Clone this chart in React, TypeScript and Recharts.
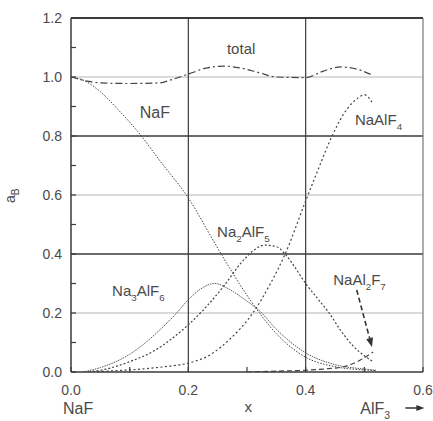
import React from 'react';
import { LineChart, Line, XAxis, YAxis, ReferenceLine, ReferenceDot } from 'recharts';

// ---- data ----
const xTicks = [0, 0.1, 0.2, 0.3, 0.4, 0.5, 0.6];
const yTicks = [0, 0.1, 0.2, 0.3, 0.4, 0.5, 0.6, 0.7, 0.8, 0.9, 1.0, 1.1, 1.2];

const xNaF = [0, 0.02, 0.05, 0.08, 0.12, 0.15, 0.2, 0.25, 0.3, 0.35, 0.4, 0.45, 0.5, 0.52];
const yNaF = [1.0, 0.99, 0.95, 0.89, 0.8, 0.72, 0.59, 0.42, 0.26, 0.13, 0.05, 0.018, 0.007, 0.005];

const xNa3 = [0.02, 0.05, 0.1, 0.15, 0.18, 0.2, 0.22, 0.245, 0.27, 0.3, 0.32, 0.35, 0.4, 0.45, 0.5, 0.52];
const yNa3 = [0, 0.015, 0.06, 0.14, 0.2, 0.245, 0.28, 0.3, 0.28, 0.24, 0.21, 0.145, 0.065, 0.025, 0.01, 0.006];

const xNa2 = [0.03, 0.06, 0.1, 0.14, 0.17, 0.2, 0.23, 0.26, 0.29, 0.31, 0.33, 0.35, 0.365, 0.38, 0.4, 0.42, 0.44, 0.46, 0.48, 0.5, 0.515];
const yNa2 = [0, 0.01, 0.035, 0.07, 0.11, 0.16, 0.22, 0.29, 0.37, 0.41, 0.43, 0.425, 0.4, 0.36, 0.3, 0.25, 0.2, 0.14, 0.09, 0.055, 0.035];

const xNaAlF4 = [0.03, 0.08, 0.12, 0.16, 0.2, 0.237, 0.27, 0.31, 0.34, 0.365, 0.4, 0.42, 0.445, 0.47, 0.49, 0.5, 0.513];
const yNaAlF4 = [0, 0.005, 0.01, 0.018, 0.03, 0.058, 0.11, 0.2, 0.3, 0.4, 0.58, 0.68, 0.8, 0.89, 0.93, 0.94, 0.915];

const xNaAl2F7 = [0.3, 0.35, 0.4, 0.43, 0.46, 0.48, 0.5, 0.515];
const yNaAl2F7 = [0, 0.003, 0.006, 0.01, 0.016, 0.028, 0.048, 0.068];

const xTotal = [0, 0.03, 0.05, 0.1, 0.15, 0.17, 0.2, 0.23, 0.26, 0.29, 0.32, 0.35, 0.4, 0.43, 0.46, 0.49, 0.513];
const yTotal = [1.0, 0.985, 0.98, 0.978, 0.98, 0.99, 1.01, 1.03, 1.037, 1.03, 1.015, 1.0, 0.998, 1.02, 1.034, 1.025, 1.007];

const toData = (xs: number[], ys: number[]) => xs.map((x, i) => ({ x, y: ys[i] }));

const W = 433;
const H = 421;
const INK = '#3a3a3a';
const TXT = '#4a4a4a';
const FONT = 'Liberation Sans, Arial, sans-serif';

const YTick = (props: any) => {
  const { x, y, payload } = props;
  const v = payload.value;
  const major = Math.round(v * 10) % 2 === 0;
  return (
    <g>
      <line x1={x} y1={y} x2={x + 5} y2={y} stroke={INK} strokeWidth={1.2} />
      {major && (
        <text x={x - 9} y={y} dy={5} textAnchor="end" fontSize={14} fill={TXT} fontFamily={FONT}>
          {v.toFixed(1)}
        </text>
      )}
    </g>
  );
};

const XTick = (props: any) => {
  const { x, y, payload } = props;
  const v = payload.value;
  const major = Math.round(v * 10) % 2 === 0;
  return (
    <g>
      <line x1={x} y1={y} x2={x} y2={y - 5} stroke={INK} strokeWidth={1.2} />
      {major && (
        <text x={x} y={y} dy={23} textAnchor="middle" fontSize={14} fill={TXT} fontFamily={FONT}>
          {v.toFixed(1)}
        </text>
      )}
    </g>
  );
};

const Lbl = (parts: [string, boolean][], anchor: 'start' | 'middle' | 'end' = 'start', size = 15) =>
  (p: any) => (
    <text x={p.cx} y={p.cy} textAnchor={anchor} fontSize={size} fill={TXT} fontFamily={FONT}>
      {parts.map(([s, sub], i) => (
        <tspan key={i} dy={sub ? 5 : i > 0 && parts[i - 1][1] ? -5 : 0} fontSize={sub ? size * 0.65 : size}>
          {s}
        </tspan>
      ))}
    </text>
  );

const ArrowShape = (p: any) => {
  const { x1, y1, x2, y2 } = p;
  const ang = Math.atan2(y2 - y1, x2 - x1);
  const L = 9;
  const w = 3.5;
  const bx = x2 - L * Math.cos(ang);
  const by = y2 - L * Math.sin(ang);
  const px = -Math.sin(ang) * w;
  const py = Math.cos(ang) * w;
  return (
    <g>
      <line x1={x1} y1={y1} x2={bx} y2={by} stroke="#333" strokeWidth={1.6} strokeDasharray="5 3" />
      <polygon points={`${x2},${y2} ${bx + px},${by + py} ${bx - px},${by - py}`} fill="#333" />
    </g>
  );
};

const SmallArrow = (p: any) => {
  const x = p.cx;
  const y = p.cy;
  return (
    <g>
      <line x1={x} y1={y} x2={x + 12} y2={y} stroke="#333" strokeWidth={1.5} />
      <polygon points={`${x + 19},${y} ${x + 11},${y - 3} ${x + 11},${y + 3}`} fill="#333" />
    </g>
  );
};

const YLabel = (p: any) => (
  <text
    x={p.cx}
    y={p.cy}
    transform={`rotate(-90 ${p.cx} ${p.cy})`}
    textAnchor="middle"
    fontSize={14}
    fill={TXT}
    fontFamily={FONT}
  >
    a<tspan dy={4} fontSize={10}>B</tspan>
  </text>
);

export default function App() {
  return (
    <div style={{ position: 'absolute', left: 0, top: 0, width: W, height: H, background: '#fff' }}>
      <LineChart width={W} height={H} margin={{ top: 18, right: 10, bottom: 19, left: 0 }}>
        <XAxis
          dataKey="x"
          type="number"
          domain={[0, 0.6]}
          ticks={xTicks}
          tick={<XTick />}
          tickLine={false}
          tickSize={0}
          tickMargin={0}
          height={30}
          axisLine={{ stroke: INK, strokeWidth: 1.5 }}
          allowDataOverflow
        />
        <YAxis
          type="number"
          domain={[0, 1.2]}
          ticks={yTicks}
          tick={<YTick />}
          tickLine={false}
          tickSize={0}
          tickMargin={0}
          width={71}
          axisLine={{ stroke: INK, strokeWidth: 1.5 }}
          allowDataOverflow
          interval={0}
        />
        {/* grid */}
        <ReferenceLine y={0.2} stroke="#dadada" strokeWidth={2} />
        <ReferenceLine y={0.6} stroke="#dadada" strokeWidth={2} />
        <ReferenceLine y={1.0} stroke="#dadada" strokeWidth={2} />
        <ReferenceLine y={0.4} stroke={INK} strokeWidth={1.4} />
        <ReferenceLine y={0.8} stroke={INK} strokeWidth={1.4} />
        <ReferenceLine y={1.2} stroke={INK} strokeWidth={1.8} />
        <ReferenceLine x={0.2} stroke={INK} strokeWidth={1.2} />
        <ReferenceLine x={0.4} stroke={INK} strokeWidth={1.2} />
        <ReferenceLine x={0.6} stroke="#777" strokeWidth={1.2} />

        {/* series */}
        <Line data={toData(xTotal, yTotal)} dataKey="y" type="monotone" dot={false} stroke="#444" strokeWidth={1.2} strokeDasharray="7 3 2 3" isAnimationActive={false} />
        <Line data={toData(xNaF, yNaF)} dataKey="y" type="monotone" dot={false} stroke="#444" strokeWidth={1} strokeDasharray="1.5 1.5" isAnimationActive={false} />
        <Line data={toData(xNa3, yNa3)} dataKey="y" type="monotone" dot={false} stroke="#555" strokeWidth={1} strokeDasharray="1.5 1" isAnimationActive={false} />
        <Line data={toData(xNa2, yNa2)} dataKey="y" type="monotone" dot={false} stroke="#444" strokeWidth={1.2} strokeDasharray="2 2" isAnimationActive={false} />
        <Line data={toData(xNaAlF4, yNaAlF4)} dataKey="y" type="monotone" dot={false} stroke="#444" strokeWidth={1.2} strokeDasharray="2 2.5" isAnimationActive={false} />
        <Line data={toData(xNaAl2F7, yNaAl2F7)} dataKey="y" type="monotone" dot={false} stroke="#444" strokeWidth={1.2} strokeDasharray="5 3" isAnimationActive={false} />

        {/* annotations */}
        <ReferenceDot x={0.29} y={1.078} r={0} ifOverflow="visible" shape={Lbl([['total', false]], 'middle', 15)} />
        <ReferenceDot x={0.143} y={0.861} r={0} ifOverflow="visible" shape={Lbl([['NaF', false]], 'middle', 16)} />
        <ReferenceDot x={0.484} y={0.837} r={0} ifOverflow="visible" shape={Lbl([['NaAlF', false], ['4', true]], 'start', 15)} />
        <ReferenceDot x={0.249} y={0.458} r={0} ifOverflow="visible" shape={Lbl([['Na', false], ['2', true], ['AlF', false], ['5', true]], 'start', 15)} />
        <ReferenceDot x={0.07} y={0.256} r={0} ifOverflow="visible" shape={Lbl([['Na', false], ['3', true], ['AlF', false], ['6', true]], 'start', 15)} />
        <ReferenceDot x={0.447} y={0.295} r={0} ifOverflow="visible" shape={Lbl([['NaAl', false], ['2', true], ['F', false], ['7', true]], 'start', 15)} />
        <ReferenceLine
          segment={[{ x: 0.487, y: 0.278 }, { x: 0.513, y: 0.085 }]}
          ifOverflow="visible"
          shape={ArrowShape}
        />

        {/* axis titles */}
        <ReferenceDot x={0.012} y={-0.143} r={0} ifOverflow="visible" shape={Lbl([['NaF', false]], 'middle', 16)} />
        <ReferenceDot x={0.302} y={-0.137} r={0} ifOverflow="visible" shape={Lbl([['x', false]], 'middle', 15)} />
        <ReferenceDot x={0.493} y={-0.143} r={0} ifOverflow="visible" shape={Lbl([['AlF', false], ['3', true]], 'start', 16)} />
        <ReferenceDot x={0.57} y={-0.122} r={0} ifOverflow="visible" shape={SmallArrow} />
        <ReferenceDot x={-0.095} y={0.597} r={0} ifOverflow="visible" shape={YLabel} />
      </LineChart>
    </div>
  );
}
